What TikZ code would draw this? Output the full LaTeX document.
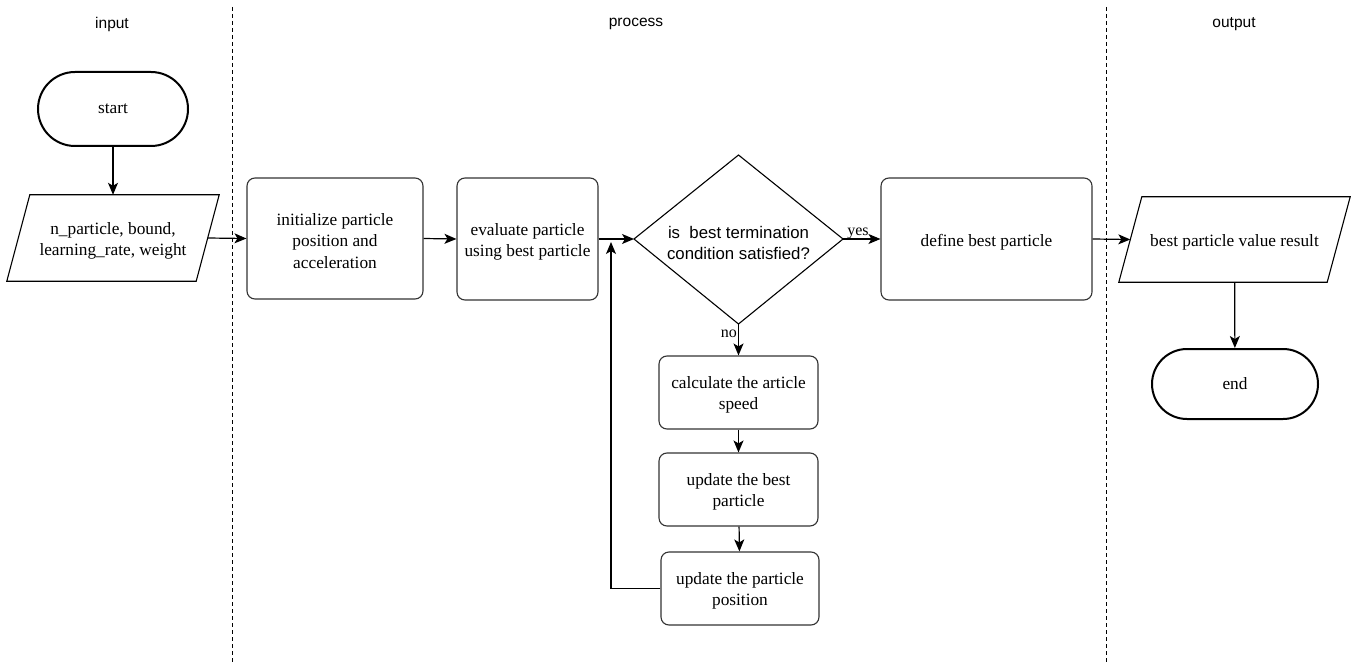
\documentclass[tikz,border=0pt]{standalone}
\usepackage{fontspec}
\setmainfont{Liberation Serif}
\newfontfamily\sansf{Liberation Sans}
\usetikzlibrary{arrows.meta,calc}
\begin{document}
\begin{tikzpicture}[x=1pt,y=-1pt,
  every node/.style={font=\fontsize{17.3}{21.5}\selectfont, align=center, inner sep=0pt},
  proc/.style={draw, rounded corners=8pt, line width=1.1pt, draw=black!80},
  term/.style={draw, line width=2pt},
  arr/.style={-{Stealth[length=12pt,width=10pt,inset=3pt]}, line width=1.2pt},
  lane/.style={dashed, line width=0.9pt, dash pattern=on 4pt off 3pt},
  lanelabel/.style={font=\sansf\fontsize{15.5}{18}\selectfont},
  edgelabel/.style={font=\fontsize{16}{18}\selectfont}
]
\useasboundingbox (0,0) rectangle (1354,663);
\fill[white] (0,0) rectangle (1354,663);

% lanes
\coordinate (l1t) at (232,7); \coordinate (l1b) at (232,663);
\coordinate (l2t) at (1106,7); \coordinate (l2b) at (1106,663);
\draw[lane] (l1t) -- (l1b);
\draw[lane] (l2t) -- (l2b);
\node[lanelabel] (Lin) at (112,24) {input};
\node[lanelabel] (Lpr) at (636,24) {process};
\node[lanelabel] (Lout) at (1234,24) {output};

% start
\node[term, minimum width=150pt, minimum height=74pt, rounded corners=37pt] (start) at (113,109) {start};

% input parallelogram
\node[minimum width=189pt, minimum height=86pt] (inp) at (113,238) {};
\node (inpt) at (113,241) {n\_particle, bound,\\learning\_rate, weight};
\draw[line width=1.1pt] ($(inp.north west)+(11.5,0)$) -- ($(inp.north east)+(11.5,0)$) -- ($(inp.south east)+(-11.5,0)$) -- ($(inp.south west)+(-11.5,0)$) -- cycle;

% init
\node[proc, minimum width=176pt, minimum height=121pt] (init) at (335,238.5) {};
\node (initt) at (335,241) {initialize particle\\position and\\acceleration};
% eval
\node[proc, minimum width=141pt, minimum height=122pt] (eval) at (527.5,239) {};
\node (evalt) at (527.5,242) {evaluate particle\\using best particle};
% diamond
\coordinate (dW) at (634,239); \coordinate (dE) at (843,239);
\coordinate (dN) at (738.5,155); \coordinate (dS) at (738.5,324);
\draw[line width=1.1pt] (dW) -- (dN) -- (dE) -- (dS) -- cycle;
\node[font=\sansf\fontsize{16.8}{21.7}\selectfont] (dec) at (738.5,243) {is\ \ best termination\\condition satisfied?};
% define
\node[proc, minimum width=211pt, minimum height=122pt] (def) at (986.5,239) {};
\node (deft) at (986.5,242) {define best particle};
% output parallelogram
\node[minimum width=208pt, minimum height=85pt] (outp) at (1234.5,239.5) {};
\node (outpt) at (1234.5,242) {best particle value result};
\draw[line width=1.1pt] ($(outp.north west)+(11.5,0)$) -- ($(outp.north east)+(11.5,0)$) -- ($(outp.south east)+(-11.5,0)$) -- ($(outp.south west)+(-11.5,0)$) -- cycle;
% end
\node[term, minimum width=166pt, minimum height=70pt, rounded corners=35pt] (endn) at (1235,384) {end};

% loop boxes
\node[proc, minimum width=159pt, minimum height=73pt] (calc) at (738.5,392.5) {};
\node (calct) at (738.5,395) {calculate the article\\speed};
\node[proc, minimum width=159pt, minimum height=73pt] (ubest) at (738.5,489.5) {};
\node (ubestt) at (738.5,492) {update the best\\particle};
\node[proc, minimum width=158pt, minimum height=73pt] (upos) at (740,588.5) {};
\node (upost) at (740,591) {update the particle\\position};

% connectors
\draw[arr] (start) -- (inp);
\draw[arr] (inp.east) -- (init.west);
\draw[arr] (init.east) -- (eval.west);
\draw[arr] (eval.east) -- (dW);
\draw[arr] (dE) -- node[edgelabel, above, pos=0.4, yshift=-1pt] (yes) {yes} (def.west);
\draw[arr] (def.east) -- (outp.west);
\draw[arr] (outp) -- (endn);
\draw[arr] (dS) -- node[edgelabel, left, pos=0.3, xshift=-1pt] (no) {no} (calc.north);
\draw[arr] (calc) -- (ubest);
\draw[arr] (ubest) -- (upos);
\coordinate (fbc) at (611,588.5);
\coordinate (fbe) at (611,242);
\draw[arr] (upos.west) -- (fbc) -- (fbe);
\end{tikzpicture}
\end{document}
